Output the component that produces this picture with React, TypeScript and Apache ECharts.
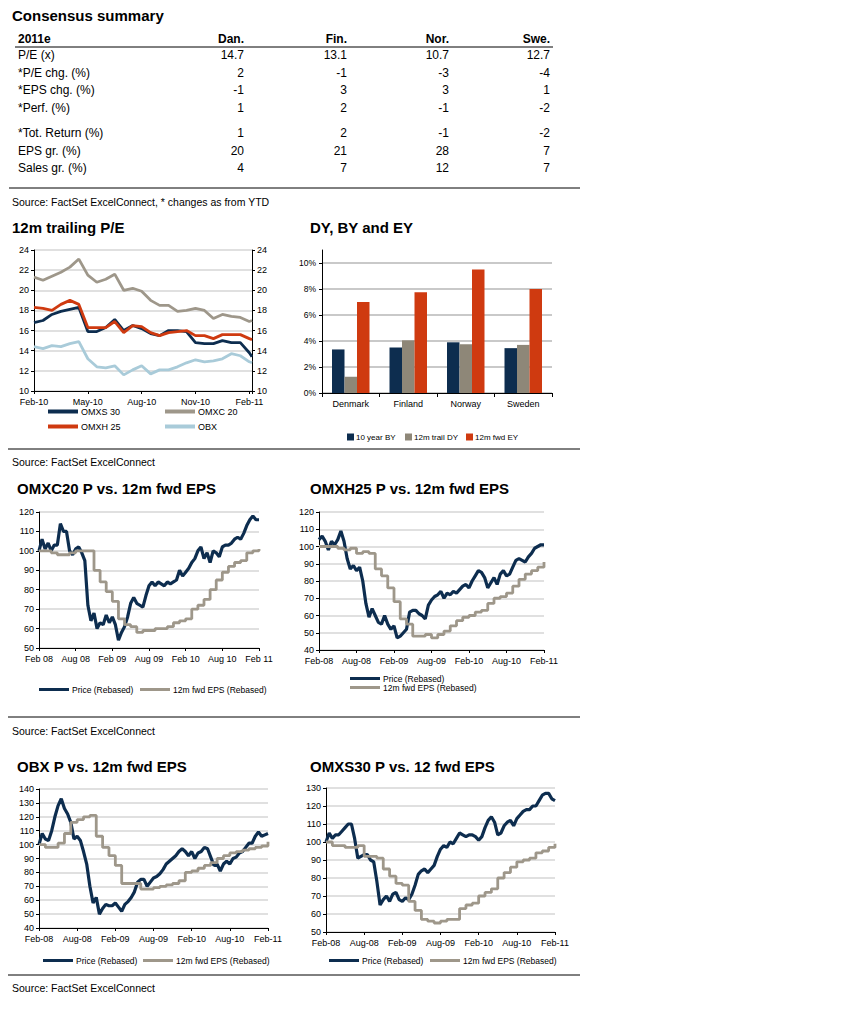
import React, { useEffect, useRef } from "react";
import * as echarts from "echarts";

const FONT = "'Liberation Sans', Arial, Helvetica, sans-serif";
const NAVY = "#0D2D4F";
const TAUPE = "#9E978A";
const BARGRAY = "#8E8778";
const RED = "#CF3A10";
const LIGHTBLUE = "#A9CBD9";
const GRIDC = "#D6D6D6";

// ---------- Consensus table ----------
const tableTitle = "Consensus summary";
const tableCorner = "2011e";
const tableColumns = ["Dan.", "Fin.", "Nor.", "Swe."];
const tableRowLabels = ["P/E (x)", "*P/E chg. (%)", "*EPS chg. (%)", "*Perf. (%)", "*Tot. Return (%)", "EPS gr. (%)", "Sales gr. (%)"];
const rowPE = ["14.7", "13.1", "10.7", "12.7"];
const rowPEchg = ["2", "-1", "-3", "-4"];
const rowEPSchg = ["-1", "3", "3", "1"];
const rowPerf = ["1", "2", "-1", "-2"];
const rowTotRet = ["1", "2", "-1", "-2"];
const rowEPSgr = ["20", "21", "28", "7"];
const rowSalesGr = ["4", "7", "12", "7"];
const tableSource = "Source: FactSet ExcelConnect, * changes as from YTD";
const source = "Source: FactSet ExcelConnect";

// ---------- 12m trailing P/E (half-month steps from Feb-10) ----------
const peMonths = [0, 0.5, 1, 1.5, 2, 2.5, 3, 3.5, 4, 4.5, 5, 5.5, 6, 6.5, 7, 7.5, 8, 8.5, 9, 9.5, 10, 10.5, 11, 11.5, 12, 12.15];
const peLabels = ["Feb-10", "May-10", "Aug-10", "Nov-10", "Feb-11"];
const peOMXS30 = [16.8, 17.0, 17.6, 17.9, 18.1, 18.3, 15.9, 15.9, 16.3, 17.1, 16.0, 16.5, 16.2, 15.7, 15.5, 16.0, 16.0, 15.9, 14.8, 14.7, 14.7, 15.0, 14.8, 14.8, 13.8, 13.4];
const peOMXC20 = [21.3, 21.0, 21.4, 21.8, 22.3, 23.1, 21.5, 20.8, 21.1, 21.6, 20.0, 20.2, 19.9, 19.0, 18.5, 18.5, 17.9, 18.0, 18.2, 18.0, 17.2, 17.6, 17.4, 17.3, 16.9, 17.0];
const peOMXH25 = [18.3, 18.2, 18.0, 18.6, 19.0, 18.6, 16.3, 16.3, 16.3, 16.9, 15.8, 16.5, 16.4, 15.8, 15.5, 15.8, 15.9, 16.0, 15.5, 15.5, 15.2, 15.6, 15.6, 15.6, 15.2, 15.1];
const peOBX = [14.4, 14.2, 14.5, 14.4, 14.7, 14.9, 13.2, 12.4, 12.3, 12.5, 11.6, 12.1, 12.5, 11.7, 12.1, 12.1, 12.4, 12.8, 13.1, 12.9, 13.0, 13.2, 13.7, 13.5, 12.9, 12.8];

// ---------- DY, BY and EY ----------
const yieldCountries = ["Denmark", "Finland", "Norway", "Sweden"];
const bond10y = [3.35, 3.5, 3.9, 3.45];
const trailDY = [1.25, 4.05, 3.75, 3.7];
const fwdEY = [7.0, 7.75, 9.5, 8.0];

// ---------- Price vs EPS charts (price: half-monthly, EPS: monthly, from Feb-08) ----------
const labelsSpace = ["Feb 08", "Aug 08", "Feb 09", "Aug 09", "Feb 10", "Aug 10", "Feb 11"];
const labelsDash = ["Feb-08", "Aug-08", "Feb-09", "Aug-09", "Feb-10", "Aug-10", "Feb-11"];

const omxc20Price = [100, 106, 101, 104, 100, 103, 103, 114, 110, 110, 100, 98, 101, 102, 99, 95, 72, 64, 68, 60, 63, 62, 67, 63, 66, 62, 54, 58, 61, 66, 73, 76, 73, 72, 71, 77, 82, 84, 82, 84, 83, 82, 84, 83, 84, 85, 90, 87, 89, 91, 94, 96, 100, 102, 96, 99, 94, 100, 99, 97, 102, 103, 103, 104, 106, 107, 106, 109, 113, 116, 118, 116, 116];
const omxc20Eps = [100, 100, 99, 98, 98, 99, 100, 100, 100, 90, 84, 79, 74, 65, 62, 61, 58, 59, 59, 60, 60, 61, 63, 64, 65, 70, 72, 75, 80, 85, 89, 92, 94, 95, 99, 100, 101];

const omxh25Price = [104, 106, 103, 98, 103, 101, 104, 109, 103, 93, 87, 89, 86, 88, 80, 67, 59, 64, 60, 56, 55, 60, 55, 52, 54, 47, 48, 50, 52, 62, 63, 63, 61, 60, 58, 66, 69, 71, 72, 74, 70, 73, 72, 74, 73, 75, 77, 78, 76, 80, 83, 86, 85, 82, 76, 79, 82, 78, 84, 86, 83, 84, 88, 92, 93, 92, 91, 94, 96, 99, 100, 101, 101];
const omxh25Eps = [100, 100, 100, 99, 98, 99, 96, 97, 96, 87, 83, 76, 68, 58, 55, 48, 48, 49, 47, 49, 51, 54, 57, 59, 60, 62, 63, 67, 70, 71, 73, 77, 81, 84, 86, 88, 91];

const obxPrice = [100, 108, 104, 103, 110, 120, 128, 133, 126, 122, 116, 104, 106, 103, 95, 86, 70, 58, 62, 50, 54, 57, 56, 56, 58, 55, 52, 57, 59, 62, 66, 73, 75, 75, 70, 73, 76, 77, 79, 82, 86, 88, 90, 92, 95, 97, 95, 92, 95, 90, 94, 95, 98, 97, 91, 85, 86, 81, 86, 88, 86, 90, 91, 94, 95, 98, 101, 101, 106, 109, 106, 107, 108];
const obxEps = [100, 98, 98, 101, 108, 116, 118, 120, 121, 106, 98, 92, 85, 72, 72, 72, 68, 68, 69, 70, 71, 72, 74, 80, 81, 83, 85, 87, 90, 92, 94, 95, 96, 97, 98, 99, 102];

const omxs30Price = [100, 105, 102, 104, 104, 106, 108, 110, 110, 102, 91, 92, 93, 93, 90, 89, 78, 65, 68, 70, 67, 71, 72, 68, 67, 69, 68, 71, 76, 82, 84, 85, 83, 85, 87, 92, 96, 98, 97, 100, 99, 102, 105, 104, 103, 104, 104, 103, 101, 103, 108, 112, 114, 111, 104, 105, 109, 111, 112, 109, 113, 115, 117, 118, 118, 120, 120, 123, 126, 127, 127, 124, 123];
const omxs30Eps = [100, 98, 98, 97, 97, 98, 92, 92, 91, 85, 81, 77, 76, 67, 62, 57, 56, 55, 56, 57, 57, 63, 65, 66, 70, 72, 74, 80, 83, 86, 89, 90, 91, 94, 95, 97, 99];

const PRICE = "Price (Rebased)";
const EPS = "12m fwd EPS (Rebased)";

function txt(x: number, y: number, text: string, size = 12, weight = "normal", align = "left") {
  return {
    type: "text",
    x,
    y,
    silent: true,
    style: {
      text,
      fill: "#000",
      font: `${weight} ${size}px ${FONT}`,
      textAlign: align,
      align,
      textVerticalAlign: "middle",
      verticalAlign: "middle",
    },
  };
}
function hline(x1: number, x2: number, y: number, w = 1) {
  return { type: "line", silent: true, shape: { x1, y1: y, x2, y2: y }, style: { stroke: "#000", lineWidth: w } };
}

const axisLineBlack = { show: true, lineStyle: { color: "#000", width: 1 } };
const tickBlack = { show: true, length: 3, lineStyle: { color: "#000", width: 1 } };
const lbl = (size = 9) => ({ fontSize: size, color: "#000", fontFamily: FONT });

function yValAxis(gridIndex: number, min: number, max: number, interval: number, extra: any = {}) {
  return {
    type: "value",
    gridIndex,
    min,
    max,
    interval,
    axisLine: axisLineBlack,
    axisTick: tickBlack,
    axisLabel: { ...lbl(9), margin: 5 },
    splitLine: { show: true, lineStyle: { color: GRIDC, width: 1.5 } },
    ...extra,
  };
}
function xTimeAxis(gridIndex: number, labels: string[]) {
  return {
    type: "value",
    gridIndex,
    min: 0,
    max: 36,
    interval: 6,
    axisLine: { ...axisLineBlack, onZero: false },
    axisTick: tickBlack,
    splitLine: { show: false },
    axisLabel: { ...lbl(9), margin: 6, formatter: (v: number) => (v % 6 === 0 ? labels[v / 6] : "") },
  };
}
function lineSeries(name: string, xi: number, yi: number, data: number[][], color: string, width = 2.6, step: any = false) {
  return {
    type: "line",
    name,
    xAxisIndex: xi,
    yAxisIndex: yi,
    data,
    step,
    showSymbol: false,
    symbol: "none",
    silent: true,
    lineStyle: { color, width },
    itemStyle: { color },
  };
}
const halfMonthly = (arr: number[]) => arr.map((v, i) => [i / 2, v]);
const monthly = (arr: number[]) => arr.map((v, i) => [i, v]);

function lg(name: string, left: number, top: number, w = 30, h = 3, size = 8.5) {
  return {
    data: [name],
    left,
    top,
    padding: 0,
    icon: "rect",
    itemWidth: w,
    itemHeight: h,
    itemGap: 0,
    selectedMode: false,
    textStyle: { fontSize: size, color: "#000", fontFamily: FONT, padding: [0, 0, 0, -2] },
  };
}

function buildOption() {
  const gridBase = { containLabel: false, outerBoundsMode: "none" };
  const grids = [
    { ...gridBase, left: 34, top: 250, width: 218, height: 141 },
    { ...gridBase, left: 322, top: 250, width: 230, height: 143 },
    { ...gridBase, left: 39, top: 512, width: 220, height: 136 },
    { ...gridBase, left: 319, top: 512, width: 225, height: 138 },
    { ...gridBase, left: 39, top: 789, width: 229, height: 139 },
    { ...gridBase, left: 326, top: 788, width: 229, height: 144 },
  ];

  const xAxes = [
    {
      type: "value",
      gridIndex: 0,
      min: 0,
      max: 12.15,
      interval: 3,
      axisLine: { ...axisLineBlack, onZero: false },
      axisTick: tickBlack,
      splitLine: { show: false },
      axisLabel: { ...lbl(9), margin: 6, formatter: (v: number) => (v % 3 === 0 && v <= 12 ? peLabels[v / 3] : "") },
    },
    {
      type: "category",
      gridIndex: 1,
      data: yieldCountries,
      axisLine: axisLineBlack,
      axisTick: { show: true, length: 4, lineStyle: { color: "#000" } },
      axisLabel: { ...lbl(9), margin: 6 },
    },
    xTimeAxis(2, labelsSpace),
    xTimeAxis(3, labelsDash),
    xTimeAxis(4, labelsDash),
    xTimeAxis(5, labelsDash),
  ];

  const yAxes = [
    yValAxis(0, 10, 24, 2),
    yValAxis(0, 10, 24, 2, { position: "right", splitLine: { show: false } }),
    yValAxis(1, 0, 11, 2, {
      axisLabel: { ...lbl(8.5), margin: 6, formatter: "{value}%", showMaxLabel: false },
      axisTick: { show: true, length: 3, lineStyle: { color: "#000" } },
      splitLine: { show: true, showMaxLine: false, lineStyle: { color: "#C9C9C9", width: 2 } },
    }),
    yValAxis(2, 50, 120, 10),
    yValAxis(3, 40, 120, 10),
    yValAxis(4, 40, 140, 10),
    yValAxis(5, 50, 130, 10),
  ];

  const peData = (arr: number[]) => arr.map((v, i) => [peMonths[i], v]);

  const series: any[] = [
    lineSeries("OMXS 30", 0, 0, peData(peOMXS30), NAVY, 2.8),
    lineSeries("OMXC 20", 0, 0, peData(peOMXC20), TAUPE, 2.8),
    lineSeries("OMXH 25", 0, 0, peData(peOMXH25), RED, 2.8),
    lineSeries("OBX", 0, 0, peData(peOBX), LIGHTBLUE, 2.8),
    {
      type: "bar", name: "10 year BY", xAxisIndex: 1, yAxisIndex: 2, data: bond10y,
      barWidth: 12.5, barGap: "0%", silent: true, itemStyle: { color: NAVY },
    },
    {
      type: "bar", name: "12m trail DY", xAxisIndex: 1, yAxisIndex: 2, data: trailDY,
      barWidth: 12.5, barGap: "0%", silent: true, itemStyle: { color: BARGRAY },
    },
    {
      type: "bar", name: "12m fwd EY", xAxisIndex: 1, yAxisIndex: 2, data: fwdEY,
      barWidth: 12.5, barGap: "0%", silent: true, itemStyle: { color: RED },
    },
    lineSeries(PRICE, 2, 3, halfMonthly(omxc20Price), NAVY, 3.2),
    lineSeries(EPS, 2, 3, monthly(omxc20Eps), TAUPE, 2.8, "end"),
    lineSeries(PRICE, 3, 4, halfMonthly(omxh25Price), NAVY, 3.2),
    lineSeries(EPS, 3, 4, monthly(omxh25Eps), TAUPE, 2.8, "end"),
    lineSeries(PRICE, 4, 5, halfMonthly(obxPrice), NAVY, 3.2),
    lineSeries(EPS, 4, 5, monthly(obxEps), TAUPE, 2.8, "end"),
    lineSeries(PRICE, 5, 6, halfMonthly(omxs30Price), NAVY, 3.2),
    lineSeries(EPS, 5, 6, monthly(omxs30Eps), TAUPE, 2.8, "end"),
  ];

  const legends = [
    lg("OMXS 30", 48, 407, 30, 4, 9),
    lg("OMXC 20", 165, 407, 30, 4, 9),
    lg("OMXH 25", 48, 422, 30, 4, 9),
    lg("OBX", 165, 422, 30, 4, 9),
    { ...lg("10 year BY", 347, 433, 7, 7, 8), textStyle: { fontSize: 8, color: "#000", fontFamily: FONT, padding: [0, 0, 0, -3] } },
    { ...lg("12m trail DY", 405, 433, 7, 7, 8), textStyle: { fontSize: 8, color: "#000", fontFamily: FONT, padding: [0, 0, 0, -3] } },
    { ...lg("12m fwd EY", 466, 433, 7, 7, 8), textStyle: { fontSize: 8, color: "#000", fontFamily: FONT, padding: [0, 0, 0, -3] } },
    lg(PRICE, 39, 685),
    lg(EPS, 140, 685),
    lg(PRICE, 350, 674),
    lg(EPS, 350, 683),
    lg(PRICE, 43, 956),
    lg(EPS, 143, 956),
    lg(PRICE, 329, 956),
    lg(EPS, 430, 956),
  ];

  // table graphics
  const colX = [244, 347, 449, 550];
  const rowY = [55, 73, 90, 108, 133, 151, 168];
  const rows = [rowPE, rowPEchg, rowEPSchg, rowPerf, rowTotRet, rowEPSgr, rowSalesGr];
  const g: any[] = [];
  g.push(txt(12, 15, tableTitle, 15, "bold"));
  g.push(txt(18, 39, tableCorner, 12, "bold"));
  tableColumns.forEach((c, i) => g.push(txt(colX[i], 39, c, 12, "bold", "right")));
  g.push(hline(15, 553, 47));
  tableRowLabels.forEach((r, ri) => {
    g.push(txt(18, rowY[ri], r, 12));
    rows[ri].forEach((v, ci) => g.push(txt(colX[ci], rowY[ri], v, 12, "normal", "right")));
  });
  g.push(hline(9, 580, 188));
  g.push(txt(12, 202, tableSource, 10.5));

  // chart titles
  g.push(txt(12, 227, "12m trailing P/E", 15, "bold"));
  g.push(txt(310, 227, "DY, BY and EY", 15, "bold"));
  g.push(txt(17, 488, "OMXC20 P vs. 12m fwd EPS", 15, "bold"));
  g.push(txt(310, 488, "OMXH25 P vs. 12m fwd EPS", 15, "bold"));
  g.push(txt(17, 766, "OBX P vs. 12m fwd EPS", 15, "bold"));
  g.push(txt(310, 766, "OMXS30 P vs. 12 fwd EPS", 15, "bold"));

  // separators & sources
  g.push(hline(8, 580, 449));
  g.push(txt(12, 462, source, 10.5));
  g.push(hline(8, 580, 717));
  g.push(txt(12, 731, source, 10.5));
  g.push(hline(8, 580, 975));
  g.push(txt(12, 988, source, 10.5));

  return {
    animation: false,
    backgroundColor: "#fff",
    textStyle: { fontFamily: FONT },
    grid: grids,
    xAxis: xAxes,
    yAxis: yAxes,
    series,
    legend: legends,
    graphic: g,
  };
}

export default function App() {
  const ref = useRef<HTMLDivElement>(null);
  useEffect(() => {
    if (!ref.current) return;
    const chart = echarts.init(ref.current, null, { renderer: "svg" });
    chart.setOption(buildOption() as any);
    return () => chart.dispose();
  }, []);
  return (
    <div
      ref={ref}
      style={{ position: "absolute", left: 0, top: 0, width: 843, height: 1020, background: "#fff" }}
    />
  );
}
